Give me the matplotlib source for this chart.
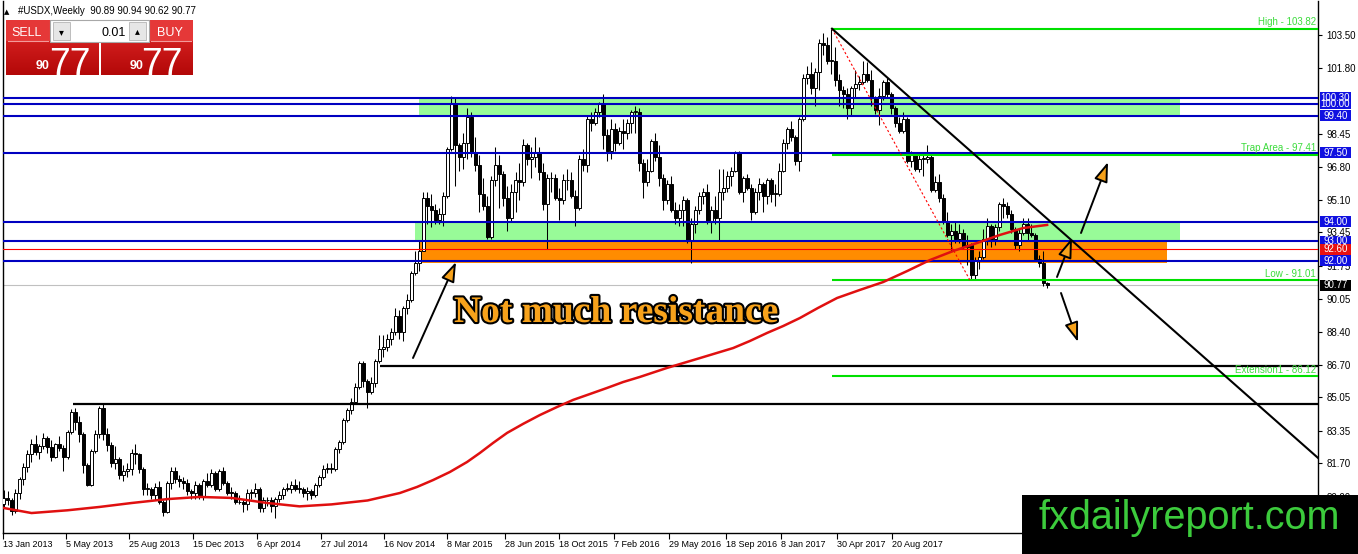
import matplotlib
matplotlib.use('Agg')
import matplotlib.pyplot as plt
import matplotlib.patheffects as pe
import numpy as np
from matplotlib.patches import Rectangle

plt.rcParams['font.family'] = ['Liberation Sans', 'DejaVu Sans']

W, H = 1358, 554

# weekly #USDX candles, week of 13 Jan 2013 .. week of 14 Jan 2018 (open = previous close)
first_open = 79.60
closes = [
    # 0-49 : 2013
    79.95, 79.80, 79.25, 80.20, 80.90, 81.50, 82.15, 82.70, 82.25, 82.55,
    83.00, 82.50, 82.00, 82.65, 82.45, 82.00, 83.30, 84.30, 83.80, 83.20,
    81.60, 80.60, 82.30, 83.20, 84.50, 83.20, 82.60, 81.70, 81.90, 81.10,
    81.30, 81.40, 82.20, 82.15, 81.40, 80.40, 80.40, 80.10, 80.50, 79.70,
    79.20, 80.70, 81.30, 80.90, 80.80, 80.70, 80.30, 80.20, 80.60, 80.00,
    # 50-102 : 2014
    80.80, 80.60, 81.20, 80.40, 81.30, 80.70, 80.20, 80.20, 79.70, 79.70,
    79.60, 80.20, 80.20, 80.40, 79.40, 79.80, 79.80, 79.50, 79.90, 80.10,
    80.40, 80.40, 80.60, 80.40, 80.40, 80.20, 80.30, 80.10, 80.60, 81.00,
    81.40, 81.40, 81.40, 82.40, 82.80, 83.90, 84.40, 84.80, 85.60, 86.80,
    85.90, 85.30, 85.80, 86.90, 87.50, 87.60, 88.00, 88.40, 89.20, 88.40,
    89.60, 90.00, 91.40,
    # 103-154 : 2015
    91.90, 92.50, 95.20, 94.80, 94.60, 94.10, 94.40,
    95.30, 97.70, 100.00, 97.90, 97.30, 98.00, 99.30, 97.50, 96.90, 95.40,
    94.80, 93.20, 96.10, 96.90, 96.40, 95.20, 94.20, 95.50, 96.10, 96.00,
    97.90, 97.20, 97.30, 97.50, 96.50, 94.90, 96.20, 96.20, 95.20, 95.10,
    96.10, 96.10, 95.30, 94.70, 97.20, 96.90, 99.20, 99.00, 99.60, 100.00,
    98.40, 97.60, 98.70, 98.00, 98.60,
    # 155-206 : 2016
    98.50, 99.00, 99.60, 99.60, 97.00,
    96.00, 96.60, 98.10, 97.30, 96.20, 95.10, 95.90, 94.60, 94.20, 94.60,
    95.10, 93.00, 93.90, 94.60, 95.30, 95.50, 94.00, 94.60, 94.20, 95.50,
    95.70, 96.30, 96.60, 97.50, 95.50, 96.20, 95.70, 94.50, 95.50, 95.90,
    95.30, 96.10, 95.40, 95.40, 96.60, 98.00, 98.70, 98.30, 97.10, 99.20,
    101.30, 101.50, 100.80, 101.60, 103.10, 103.00, 102.20,
    # 207-259 : 2017
    102.20, 101.20, 100.70,
    100.50, 99.80, 100.80, 101.00, 101.10, 101.50, 101.20, 100.30, 99.70, 100.40,
    101.10, 100.50, 99.80, 99.00, 98.60, 99.20, 97.10, 97.40, 96.70, 97.20,
    97.20, 97.30, 95.60, 96.00, 95.20, 94.00, 93.30, 93.50, 93.10, 93.40,
    92.70, 92.80, 91.30, 92.00, 92.20, 93.10, 93.80, 93.10, 93.70, 94.90,
    94.80, 94.40, 93.60, 92.80, 93.40, 93.90, 93.40, 93.30, 92.10, 91.90,
    # 260-261 : 2018
    90.89, 90.77,
]
highs = [
    80.35, 80.30, 79.95, 80.40, 81.00, 81.70, 82.35, 82.95, 83.15, 82.70,
    83.25, 83.10, 82.90, 82.75, 83.10, 82.60, 83.40, 84.45, 84.50, 84.10,
    83.30, 81.70, 82.40, 83.40, 84.60, 84.75, 83.50, 82.80, 82.55, 82.00,
    81.60, 81.70, 82.40, 82.65, 82.20, 81.50, 80.70, 80.50, 80.70, 80.80,
    79.80, 80.80, 81.50, 81.50, 81.10, 81.00, 80.90, 80.40, 80.80, 80.70,
    80.90, 81.20, 81.40, 81.30, 81.40, 81.50, 80.80, 80.50, 80.30, 80.10,
    79.90, 80.40, 80.40, 80.70, 80.50, 80.00, 80.00, 80.00, 80.00, 80.30,
    80.50, 80.70, 80.80, 80.90, 80.80, 80.50, 80.50, 80.40, 80.70, 81.10,
    81.60, 81.70, 81.70, 82.50, 82.90, 84.00, 84.50, 85.00, 85.80, 86.90,
    86.90, 86.00, 86.10, 87.00, 88.20, 88.20, 88.30, 88.60, 89.60, 89.50,
    89.70, 90.30, 91.50, 92.50, 93.00, 95.50, 95.50, 95.40, 94.90, 94.70,
    95.50, 97.80, 100.40, 100.30, 98.00, 98.50, 99.80, 99.60, 98.30, 97.40,
    96.20, 95.30, 96.30, 97.80, 97.40, 96.60, 95.80, 95.90, 96.50, 97.00,
    98.20, 98.00, 97.80, 98.30, 97.80, 97.00, 96.40, 96.50, 96.40, 95.70,
    96.40, 96.70, 96.50, 95.60, 97.40, 97.70, 99.40, 99.60, 99.80, 100.10,
    100.50, 98.70, 99.20, 99.00, 98.80, 99.20, 99.20, 99.70, 99.90, 99.80,
    97.20, 97.20, 98.20, 98.50, 97.90, 96.40, 96.10, 96.30, 95.00, 94.90,
    95.30, 95.20, 94.20, 94.80, 95.50, 95.70, 95.90, 94.80, 95.30, 96.70,
    96.70, 96.60, 96.80, 97.60, 97.60, 96.30, 96.40, 95.90, 95.70, 96.20,
    96.00, 96.20, 96.20, 95.90, 97.00, 98.20, 98.80, 99.10, 98.40, 99.30,
    101.50, 101.90, 102.10, 101.80, 103.30, 103.60, 103.40, 103.82, 102.90, 101.50,
    100.90, 100.80, 100.90, 101.70, 101.40, 102.20, 102.10, 101.70, 100.40, 100.80,
    101.20, 101.30, 100.60, 99.90, 99.30, 99.60, 99.30, 97.60, 97.50, 97.40,
    97.50, 97.90, 97.40, 96.30, 96.40, 95.40, 94.50, 93.90, 94.00, 93.90,
    93.60, 93.30, 92.90, 92.20, 92.50, 93.60, 94.20, 93.90, 93.90, 95.00,
    95.20, 95.00, 94.60, 93.70, 93.60, 94.20, 94.20, 93.90, 93.40, 92.30,
    92.50, 90.94,
]
lows = [
    79.45, 79.55, 79.05, 79.15, 79.90, 80.60, 81.25, 81.75, 82.10, 81.90,
    82.40, 82.20, 81.80, 81.95, 82.30, 81.30, 81.90, 83.20, 83.40, 82.80,
    81.20, 80.55, 80.55, 82.20, 83.00, 82.90, 82.30, 81.50, 81.40, 80.90,
    80.80, 81.00, 81.10, 81.65, 81.20, 80.10, 80.10, 79.90, 79.80, 79.60,
    79.00, 79.15, 80.40, 80.70, 80.50, 80.40, 80.10, 79.90, 79.90, 79.90,
    79.80, 80.50, 80.50, 80.30, 80.30, 80.60, 80.10, 79.90, 79.60, 79.60,
    79.20, 79.30, 79.90, 80.00, 79.20, 79.20, 79.50, 79.20, 78.90, 79.70,
    79.90, 80.30, 80.20, 80.30, 80.20, 80.00, 79.80, 79.90, 80.00, 80.50,
    80.90, 81.20, 81.20, 81.30, 82.20, 82.70, 83.80, 84.20, 84.70, 85.50,
    85.60, 84.50, 85.20, 85.60, 86.80, 87.10, 87.40, 87.70, 88.20, 88.00,
    87.90, 89.30, 89.90, 91.30, 91.50, 92.50, 93.90, 93.70, 93.90, 93.90,
    93.80, 95.20, 97.60, 95.80, 96.60, 96.70, 97.20, 97.30, 96.60, 94.50,
    94.60, 93.10, 93.10, 95.80, 94.70, 94.80, 93.50, 94.00, 94.50, 95.10,
    95.80, 96.90, 96.20, 96.80, 96.10, 94.60, 92.60, 95.50, 95.10, 94.10,
    94.90, 95.60, 95.20, 93.80, 94.60, 96.60, 96.50, 98.60, 98.90, 99.30,
    97.70, 97.10, 97.20, 97.60, 97.90, 97.70, 98.20, 98.50, 98.50, 96.60,
    95.20, 95.80, 96.50, 97.10, 95.80, 94.60, 94.90, 94.50, 93.90, 93.80,
    93.80, 92.90, 91.90, 93.40, 94.40, 94.90, 93.90, 93.40, 93.90, 93.00,
    95.10, 95.50, 95.80, 96.50, 95.40, 95.00, 95.60, 94.10, 94.40, 95.10,
    94.50, 94.90, 95.00, 94.80, 95.30, 96.50, 97.70, 98.10, 96.90, 96.60,
    99.10, 101.00, 100.50, 99.90, 100.70, 102.50, 102.00, 101.50, 100.90, 99.90,
    99.80, 99.20, 99.40, 100.30, 100.70, 101.00, 101.10, 99.90, 99.50, 98.90,
    100.20, 100.30, 99.50, 98.80, 98.50, 98.50, 97.00, 96.80, 96.60, 96.50,
    96.30, 97.00, 95.50, 95.50, 95.00, 93.90, 93.20, 92.50, 92.90, 92.90,
    92.60, 91.80, 91.01, 91.10, 91.60, 92.10, 92.80, 92.70, 92.80, 93.50,
    94.20, 94.20, 93.40, 92.60, 92.50, 93.30, 93.00, 93.20, 92.00, 91.70,
    90.70, 90.62,
]

# red moving average, read at a number of bars
ma_bars = [0, 7, 16, 24, 32, 41, 49, 57, 66, 74, 82, 91, 99.1, 103.4, 107.4, 111.6,
           115.9, 119.1, 122.4, 125.9, 129.9, 134.1, 138.4, 142.4, 146.6, 150.9, 154.9,
           159.1, 165.9, 174.1, 182.4, 186.6, 190.9, 194.9, 199.1, 203.6, 208.4, 214.1,
           219.9, 225.9, 231.6, 237.4, 243.4, 249.1, 254.9, 260.9]
ma_values = [79.42, 79.16, 79.30, 79.47, 79.67, 79.87, 79.98, 79.93, 79.67, 79.50,
             79.60, 79.80, 80.18, 80.49, 80.84, 81.25, 81.76, 82.22, 82.73, 83.24,
             83.70, 84.15, 84.56, 84.92, 85.22, 85.53, 85.83, 86.09, 86.55, 87.05,
             87.56, 87.92, 88.33, 88.68, 89.09, 89.60, 90.11, 90.52, 90.92, 91.48,
             92.04, 92.50, 92.91, 93.32, 93.67, 93.83]

blue_levels = [100.30, 100.00, 99.40, 97.50, 94.00, 93.00, 92.00]
red_level = 92.60
last_price = 90.77
fib_names = ['High', 'Trap Area', 'Low', 'Extension1']
fib_levels = [103.82, 97.41, 91.01, 86.12]
black_levels = [84.72, 86.66]
price_ticks = [103.50, 101.80, 98.45, 96.80, 95.10, 93.45, 91.75, 90.05,
               88.40, 86.70, 85.05, 83.35, 81.70, 80.00]
date_labels = ['13 Jan 2013', '5 May 2013', '25 Aug 2013', '15 Dec 2013', '6 Apr 2014',
               '27 Jul 2014', '16 Nov 2014', '8 Mar 2015', '28 Jun 2015', '18 Oct 2015',
               '7 Feb 2016', '29 May 2016', '18 Sep 2016', '8 Jan 2017', '30 Apr 2017',
               '20 Aug 2017']
date_px = [3, 66, 129, 193, 257, 321, 384, 447, 505, 559, 614, 669, 726, 781, 837, 892]


def bar_at(px):
    return (px - 3.5) / 4.0


def price_at(py):
    return 103.5 - (py - 35) / 19.64


fig = plt.figure(figsize=(W / 100, H / 100), dpi=100)
fig.patch.set_facecolor('white')
left, right, top, bottom = 3, 1318, 1, 533
ax = fig.add_axes([left / W, 1 - bottom / H, (right - left) / W, (bottom - top) / H])
xmin, xmax = bar_at(left), bar_at(right)
ax.set_xlim(xmin, xmax)
ax.set_ylim(price_at(bottom), price_at(top))

# zones
ax.add_patch(Rectangle((bar_at(419), 99.40), bar_at(1180) - bar_at(419), 0.90,
                       fc='#98FB98', ec='none', zorder=1))
ax.add_patch(Rectangle((bar_at(415), 93.00), bar_at(1180) - bar_at(415), 1.00,
                       fc='#98FB98', ec='none', zorder=1))
ax.add_patch(Rectangle((bar_at(420), 91.90), bar_at(1167) - bar_at(420), 1.10,
                       fc='#FF8C00', ec='none', zorder=1))

# candles
c = np.array(closes)
hi = np.array(highs)
lo = np.array(lows)
o = np.concatenate([[first_open], c[:-1]])
idx = np.arange(len(c))
up = c >= o
ax.vlines(idx, lo, hi, color='black', lw=0.75, zorder=3)
body_lo = np.minimum(o, c)
body_h = np.maximum(np.abs(c - o), 0.04)
ax.bar(idx[up], body_h[up], bottom=body_lo[up], width=0.72, color='white',
       edgecolor='black', linewidth=0.7, zorder=4)
ax.bar(idx[~up], body_h[~up], bottom=body_lo[~up], width=0.72, color='black',
       edgecolor='black', linewidth=0.7, zorder=4)

# horizontal levels
ax.axhline(last_price, color='#C0C0C0', lw=0.8, zorder=2)
ax.axhline(red_level, color='red', lw=0.8, zorder=5)
for lv in blue_levels:
    ax.axhline(lv, color='#0000C0', lw=1.5, zorder=5)
ax.hlines(black_levels[0], bar_at(73), xmax, color='black', lw=1.6, zorder=5)
ax.hlines(black_levels[1], bar_at(380), xmax, color='black', lw=1.6, zorder=5)

fib_start = bar_at(832)
for name, lv in zip(fib_names, fib_levels):
    ax.hlines(lv, fib_start, xmax, color='#00E000', lw=1.5, zorder=5)
    ax.text(0.9985, lv + 0.08, f'{name} - {lv:.2f}', transform=ax.get_yaxis_transform(),
            ha='right', va='bottom', fontsize=7, color='#3CDC3C', zorder=6)

# fib connector and falling trendline
ax.plot([fib_start, bar_at(970)], [fib_levels[0], fib_levels[2]], color='red',
        lw=0.8, ls=(0, (2, 2)), zorder=5)
p0, p1 = (fib_start, 103.82), (262.0, 93.95)
slope = (p1[1] - p0[1]) / (p1[0] - p0[0])
ax.plot([p0[0], xmax + 5], [p0[1], p0[1] + slope * (xmax + 5 - p0[0])],
        color='black', lw=1.5, zorder=5)

# moving average
ax.plot(ma_bars, ma_values, color='#E01010', lw=1.8, zorder=6)

# arrows
arrows = [((413, 358), (456, 262)), ((1081, 233), (1108, 162)),
          ((1057, 277), (1072, 238)), ((1061, 293), (1078, 342))]
for (sx, sy), (tx, ty) in arrows:
    ax.annotate('', xy=(bar_at(tx), price_at(ty)), xytext=(bar_at(sx), price_at(sy)),
                arrowprops=dict(arrowstyle='-|>,head_length=1.2,head_width=0.42',
                                fc='#F7A21B', ec='black', lw=1.4, mutation_scale=10,
                                shrinkA=0, shrinkB=0), zorder=7)

ax.text(bar_at(616), price_at(322), 'Not much resistance', ha='center', va='baseline',
        fontsize=27, fontweight='bold', family=['Liberation Serif', 'DejaVu Serif'],
        color='#F7A21B', zorder=8,
        path_effects=[pe.withStroke(linewidth=3, foreground='black')])

# axes styling
ax.spines['top'].set_visible(False)
for s in ['left', 'bottom', 'right']:
    ax.spines[s].set_color('black')
    ax.spines[s].set_linewidth(1)
ax.yaxis.tick_right()
ax.set_yticks(price_ticks)
ax.set_yticklabels([f'{v:.2f}' for v in price_ticks])
ax.tick_params(axis='y', length=3, pad=3, labelsize=7, direction='out')
ax.set_xticks([bar_at(p) for p in date_px])
ax.set_xticklabels(date_labels)
ax.tick_params(axis='x', length=4, pad=1, labelsize=6.5, direction='out')
for lab in ax.get_xticklabels():
    lab.set_ha('left')

# price tags on the right scale
tag_w = 31 / (right - left)
tag_h = 11 / 19.64
tags = [(lv, '#1010E0') for lv in blue_levels[:4]] + [(94.00, '#1010E0'), (93.00, '#1010E0'),
                                                       (red_level, '#E81010'), (92.00, '#1010E0'),
                                                       (last_price, 'black')]
for lv, col in tags:
    ax.add_patch(Rectangle((1.0015, lv - tag_h / 2), tag_w, tag_h, transform=ax.get_yaxis_transform(),
                           fc=col, ec='none', clip_on=False, zorder=9))
    ax.text(1.0015 + tag_w / 2, lv, f'{lv:.2f}', transform=ax.get_yaxis_transform(),
            ha='center', va='center', fontsize=7, color='white', clip_on=False, zorder=10)

# overlay in pixel coordinates: header, trade panel, logo
ov = fig.add_axes([0, 0, 1, 1], zorder=10)
ov.patch.set_alpha(0)

ov.text(4, 14.5, '▲', fontsize=5, va='baseline', family=['DejaVu Sans'])
ov.text(18, 14.5, '#USDX,Weekly  90.89 90.94 90.62 90.77', fontsize=7, va='baseline')

grad = np.linspace(0, 1, 60)[:, None]
red_cmap = matplotlib.colors.LinearSegmentedColormap.from_list('r', ['#E32A2A', '#B30808'])
for x0, x1 in [(6, 99), (101, 193)]:
    ov.imshow(grad, cmap=red_cmap, extent=(x0, x1, 75, 20), aspect='auto', zorder=1)
for x0, x1 in [(6, 50), (149, 193)]:
    ov.add_patch(Rectangle((x0, 20), x1 - x0, 21, fc='#E53838', ec='none', zorder=2))
    ov.plot([x0 + 2, x1 - 2], [41, 41], color='#F39A9A', lw=0.8, zorder=3)
ov.add_patch(Rectangle((50, 20), 99, 22, fc='white', ec='#A8A8A8', lw=0.8, zorder=2))
for x0 in [53, 129]:
    ov.add_patch(Rectangle((x0, 22), 17, 18, fc='#E6E6E6', ec='#B5B5B5', lw=0.6, zorder=3))
ov.text(61.5, 32, '▾', fontsize=7, ha='center', va='center', family=['DejaVu Sans'], zorder=4)
ov.text(137.5, 31, '▴', fontsize=7, ha='center', va='center', family=['DejaVu Sans'], zorder=4)
ov.text(126, 36, '0.01', fontsize=9, ha='right', va='baseline', zorder=4)
ov.text(27, 36, 'SELL', fontsize=9, ha='center', va='baseline', color='white', zorder=4)
ov.text(170, 36, 'BUY', fontsize=9, ha='center', va='baseline', color='white', zorder=4)
for x90, x77 in [(43, 70), (137, 162)]:
    ov.text(x90, 69, '90', fontsize=9, fontweight='bold', ha='center', va='baseline',
            color='white', zorder=4)
    ov.text(x77, 75, '77', fontsize=27, ha='center', va='baseline', color='white', zorder=4,
            family=['Liberation Sans Narrow', 'Liberation Sans'])

ov.add_patch(Rectangle((1022, 495), W - 1022, H - 495, fc='black', ec='none', zorder=1))
ov.text(1189, 529, 'fxdailyreport.com', fontsize=28.5, ha='center', va='baseline',
        color='#3CCB3C', zorder=2)

ov.set_xlim(0, W)
ov.set_ylim(H, 0)
ov.axis('off')

fig.savefig('out.png', dpi=100)
